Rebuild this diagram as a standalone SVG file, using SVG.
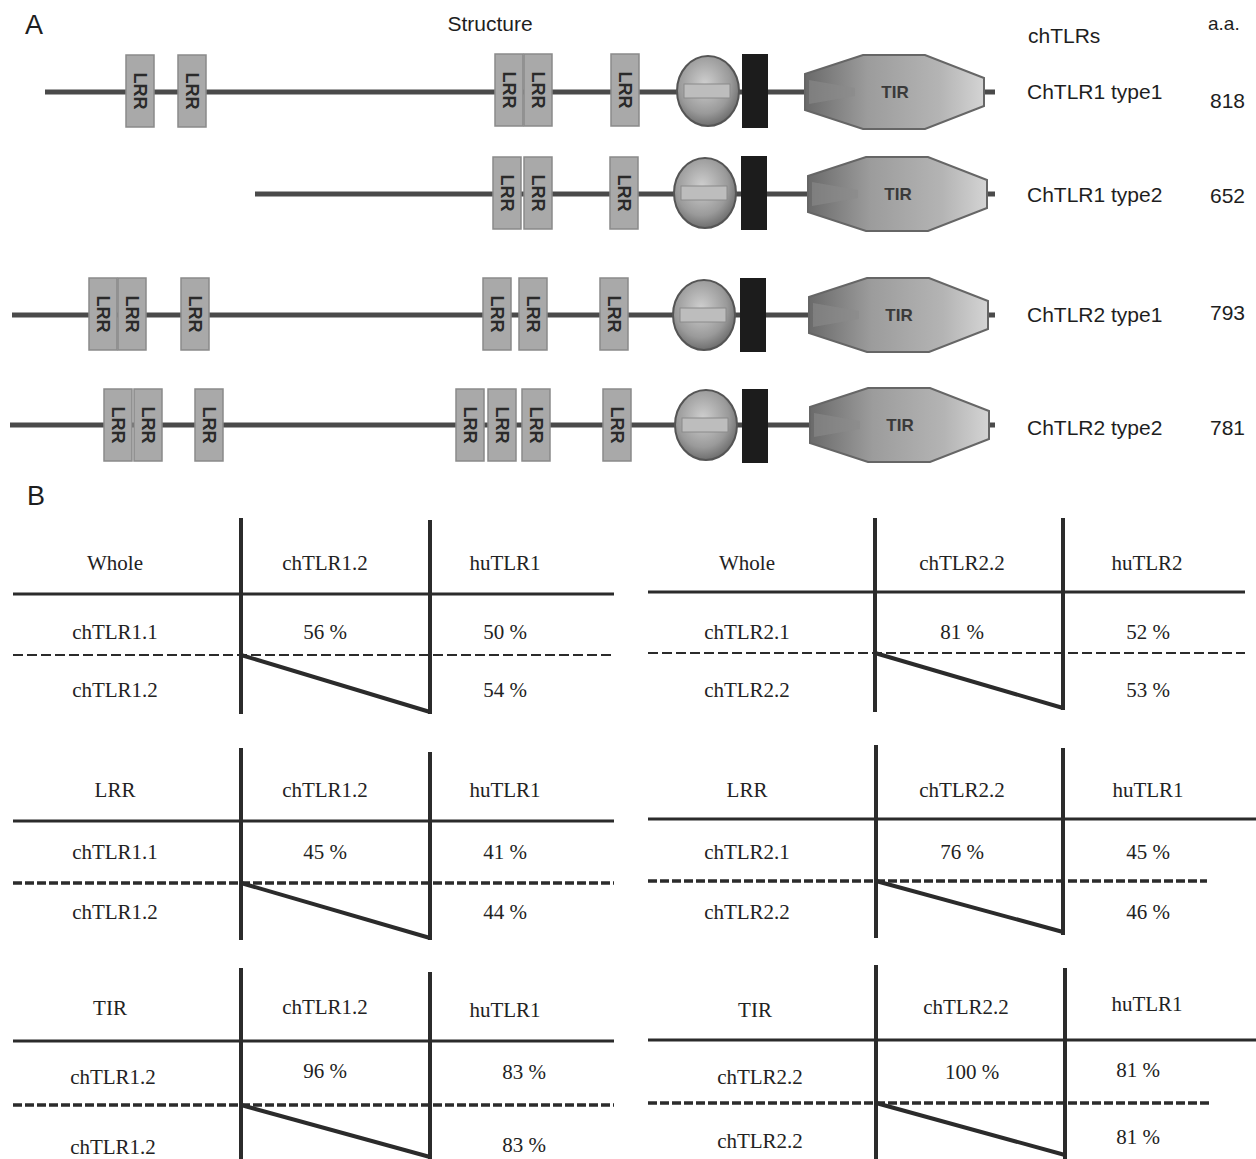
<svg xmlns="http://www.w3.org/2000/svg" xmlns:xlink="http://www.w3.org/1999/xlink" width="1256" height="1159" viewBox="0 0 1256 1159">
<style>
.sans{font-family:"Liberation Sans",Arial,sans-serif;fill:#1e1e1e}
.serif{font-family:"Liberation Serif","Times New Roman",serif;fill:#222;font-size:21px;text-anchor:middle}
.backbone{stroke:#4a4a4a;stroke-width:5;fill:none}
.lrrbox{fill:#a9a9a9;stroke:#8a8a8a;stroke-width:1.5}
.lrrtxt{font-family:"Liberation Sans",Arial,sans-serif;font-weight:bold;font-size:18px;fill:#2a2a2a;text-anchor:middle}
.tm{fill:#1c1c1c}
.tirtxt{font-family:"Liberation Sans",Arial,sans-serif;font-weight:bold;font-size:17px;fill:#3a3a3a;text-anchor:middle}
.solid{stroke:#2b2b2b;stroke-width:3;fill:none}
.vert{stroke:#2b2b2b;stroke-width:4;fill:none}
.dash{stroke:#2b2b2b;stroke-width:2;stroke-dasharray:10 4;fill:none}
.dashb{stroke:#2b2b2b;stroke-width:3.5;stroke-dasharray:9 3;fill:none}
.diag{stroke:#2b2b2b;stroke-width:4;fill:none;stroke-linejoin:miter}
</style>
<defs>
<radialGradient id="gc" cx="45%" cy="40%" r="60%">
<stop offset="0" stop-color="#cfcfcf"/><stop offset="0.7" stop-color="#9a9a9a"/><stop offset="1" stop-color="#6f6f6f"/>
</radialGradient>
<linearGradient id="gt" x1="0" y1="0" x2="1" y2="0">
<stop offset="0" stop-color="#6a6a6a"/><stop offset="0.35" stop-color="#9c9c9c"/><stop offset="0.75" stop-color="#b4b4b4"/><stop offset="1" stop-color="#d4d4d4"/>
</linearGradient>
<g id="lrr">
<rect class="lrrbox" x="-14" y="-36" width="28" height="72"/>
<text class="lrrtxt" transform="rotate(90)" x="0" y="6">LRR</text>
</g>
<g id="circ">
<ellipse cx="0" cy="0" rx="31" ry="35" fill="url(#gc)" stroke="#555" stroke-width="2"/>
<rect x="-24" y="-7" width="46" height="14" fill="#bdbdbd" stroke="#8a8a8a" stroke-width="1"/>
</g>
<g id="tm"><rect class="tm" x="-13" y="-37" width="26" height="74"/></g>
<g id="tir">
<polygon points="-90,-18 -32,-37 30,-37 89,-14 89,14 30,37 -32,37 -90,18" fill="url(#gt)" stroke="#666" stroke-width="2"/>
<polygon points="-86,-12 -40,-4 -40,4 -86,12" fill="#8a8a8a" opacity="0.6"/>
<text class="tirtxt" x="0" y="6">TIR</text>
</g>
</defs>

<g id="labels-A">
<text class="sans" x="25" y="34" font-size="27">A</text>
<text class="sans" x="490" y="31" font-size="21" text-anchor="middle">Structure</text>
<text class="sans" x="1028" y="43" font-size="21">chTLRs</text>
<text class="sans" x="1208" y="30" font-size="19">a.a.</text>
<text class="sans" x="27" y="505" font-size="27">B</text>
</g>

<g id="connectors">
<line class="backbone" x1="45" y1="92" x2="995" y2="92"/>
<line class="backbone" x1="255" y1="194" x2="995" y2="194"/>
<line class="backbone" x1="12" y1="315" x2="995" y2="315"/>
<line class="backbone" x1="10" y1="425" x2="995" y2="425"/>
</g>

<g id="chtlr1-type1">
<use xlink:href="#lrr" x="140" y="91"/>
<use xlink:href="#lrr" x="192" y="91"/>
<use xlink:href="#lrr" x="509" y="90"/>
<use xlink:href="#lrr" x="538" y="90"/>
<use xlink:href="#lrr" x="625" y="90"/>
<use xlink:href="#circ" x="708" y="91"/>
<use xlink:href="#tm" x="755" y="91"/>
<use xlink:href="#tir" x="895" y="92"/>
<text class="sans" x="1027" y="99" font-size="21">ChTLR1 type1</text>
<text class="sans" x="1210" y="108" font-size="21">818</text>
</g>

<g id="chtlr1-type2">
<use xlink:href="#lrr" x="507" y="193"/>
<use xlink:href="#lrr" x="538" y="193"/>
<use xlink:href="#lrr" x="624" y="193"/>
<use xlink:href="#circ" x="705" y="193"/>
<use xlink:href="#tm" x="754" y="193"/>
<use xlink:href="#tir" x="898" y="194"/>
<text class="sans" x="1027" y="202" font-size="21">ChTLR1 type2</text>
<text class="sans" x="1210" y="203" font-size="21">652</text>
</g>

<g id="chtlr2-type1">
<use xlink:href="#lrr" x="103" y="314"/>
<use xlink:href="#lrr" x="132" y="314"/>
<use xlink:href="#lrr" x="195" y="314"/>
<use xlink:href="#lrr" x="497" y="314"/>
<use xlink:href="#lrr" x="533" y="314"/>
<use xlink:href="#lrr" x="614" y="314"/>
<use xlink:href="#circ" x="704" y="315"/>
<use xlink:href="#tm" x="753" y="315"/>
<use xlink:href="#tir" x="899" y="315"/>
<text class="sans" x="1027" y="322" font-size="21">ChTLR2 type1</text>
<text class="sans" x="1210" y="320" font-size="21">793</text>
</g>

<g id="chtlr2-type2">
<use xlink:href="#lrr" x="118" y="425"/>
<use xlink:href="#lrr" x="148" y="425"/>
<use xlink:href="#lrr" x="209" y="425"/>
<use xlink:href="#lrr" x="470" y="425"/>
<use xlink:href="#lrr" x="502" y="425"/>
<use xlink:href="#lrr" x="536" y="425"/>
<use xlink:href="#lrr" x="617" y="425"/>
<use xlink:href="#circ" x="706" y="425"/>
<use xlink:href="#tm" x="755" y="426"/>
<use xlink:href="#tir" x="900" y="425"/>
<text class="sans" x="1027" y="435" font-size="21">ChTLR2 type2</text>
<text class="sans" x="1210" y="435" font-size="21">781</text>
</g>

<g id="table-whole-tlr1">
<line class="solid" x1="13" y1="594" x2="614" y2="594"/>
<line class="dash" x1="13" y1="655" x2="614" y2="655"/>
<line class="vert" x1="241" y1="518" x2="241" y2="714"/>
<line class="vert" x1="430" y1="520" x2="430" y2="714"/>
<polyline class="diag" points="241,655 430,712"/>
<text class="serif" x="115" y="570">Whole</text>
<text class="serif" x="325" y="570">chTLR1.2</text>
<text class="serif" x="505" y="570">huTLR1</text>
<text class="serif" x="115" y="639">chTLR1.1</text>
<text class="serif" x="325" y="639">56 %</text>
<text class="serif" x="505" y="639">50 %</text>
<text class="serif" x="115" y="697">chTLR1.2</text>
<text class="serif" x="505" y="697">54 %</text>
</g>

<g id="table-whole-tlr2">
<line class="solid" x1="648" y1="592" x2="1245" y2="592" stroke-width="5"/>
<line class="dash" x1="648" y1="653" x2="1245" y2="653"/>
<line class="vert" x1="875" y1="518" x2="875" y2="712"/>
<line class="vert" x1="1063" y1="518" x2="1063" y2="710"/>
<polyline class="diag" points="875,653 1063,708"/>
<text class="serif" x="747" y="570">Whole</text>
<text class="serif" x="962" y="570">chTLR2.2</text>
<text class="serif" x="1147" y="570">huTLR2</text>
<text class="serif" x="747" y="639">chTLR2.1</text>
<text class="serif" x="962" y="639">81 %</text>
<text class="serif" x="1148" y="639">52 %</text>
<text class="serif" x="747" y="697">chTLR2.2</text>
<text class="serif" x="1148" y="697">53 %</text>
</g>

<g id="table-lrr-tlr1">
<line class="solid" x1="13" y1="821" x2="614" y2="821"/>
<line class="dashb" x1="13" y1="883" x2="614" y2="883"/>
<line class="vert" x1="241" y1="748" x2="241" y2="940"/>
<line class="vert" x1="430" y1="752" x2="430" y2="940"/>
<polyline class="diag" points="241,883 430,938"/>
<text class="serif" x="115" y="797">LRR</text>
<text class="serif" x="325" y="797">chTLR1.2</text>
<text class="serif" x="505" y="797">huTLR1</text>
<text class="serif" x="115" y="859">chTLR1.1</text>
<text class="serif" x="325" y="859">45 %</text>
<text class="serif" x="505" y="859">41 %</text>
<text class="serif" x="115" y="919">chTLR1.2</text>
<text class="serif" x="505" y="919">44 %</text>
</g>

<g id="table-lrr-tlr2">
<line class="solid" x1="648" y1="819" x2="1257" y2="819"/>
<line class="dashb" x1="648" y1="881" x2="1207" y2="881"/>
<line class="vert" x1="876" y1="745" x2="876" y2="938"/>
<line class="vert" x1="1063" y1="748" x2="1063" y2="935"/>
<polyline class="diag" points="876,881 1063,932"/>
<text class="serif" x="747" y="797">LRR</text>
<text class="serif" x="962" y="797">chTLR2.2</text>
<text class="serif" x="1148" y="797">huTLR1</text>
<text class="serif" x="747" y="859">chTLR2.1</text>
<text class="serif" x="962" y="859">76 %</text>
<text class="serif" x="1148" y="859">45 %</text>
<text class="serif" x="747" y="919">chTLR2.2</text>
<text class="serif" x="1148" y="919">46 %</text>
</g>

<g id="table-tir-tlr1">
<line class="solid" x1="13" y1="1041" x2="614" y2="1041"/>
<line class="dashb" x1="13" y1="1105" x2="614" y2="1105"/>
<line class="vert" x1="241" y1="968" x2="241" y2="1159"/>
<line class="vert" x1="430" y1="972" x2="430" y2="1159"/>
<polyline class="diag" points="241,1105 430,1157"/>
<text class="serif" x="110" y="1015">TIR</text>
<text class="serif" x="325" y="1014">chTLR1.2</text>
<text class="serif" x="505" y="1017">huTLR1</text>
<text class="serif" x="113" y="1084">chTLR1.2</text>
<text class="serif" x="325" y="1078">96 %</text>
<text class="serif" x="524" y="1079">83 %</text>
<text class="serif" x="113" y="1154">chTLR1.2</text>
<text class="serif" x="524" y="1152">83 %</text>
</g>

<g id="table-tir-tlr2">
<line class="solid" x1="648" y1="1040" x2="1257" y2="1040"/>
<line class="dashb" x1="648" y1="1103" x2="1210" y2="1103"/>
<line class="vert" x1="876" y1="965" x2="876" y2="1159"/>
<line class="vert" x1="1065" y1="968" x2="1065" y2="1159"/>
<polyline class="diag" points="876,1103 1065,1155"/>
<text class="serif" x="755" y="1017">TIR</text>
<text class="serif" x="966" y="1014">chTLR2.2</text>
<text class="serif" x="1147" y="1011">huTLR1</text>
<text class="serif" x="760" y="1084">chTLR2.2</text>
<text class="serif" x="972" y="1079">100 %</text>
<text class="serif" x="1138" y="1077">81 %</text>
<text class="serif" x="760" y="1148">chTLR2.2</text>
<text class="serif" x="1138" y="1144">81 %</text>
</g>
</svg>
